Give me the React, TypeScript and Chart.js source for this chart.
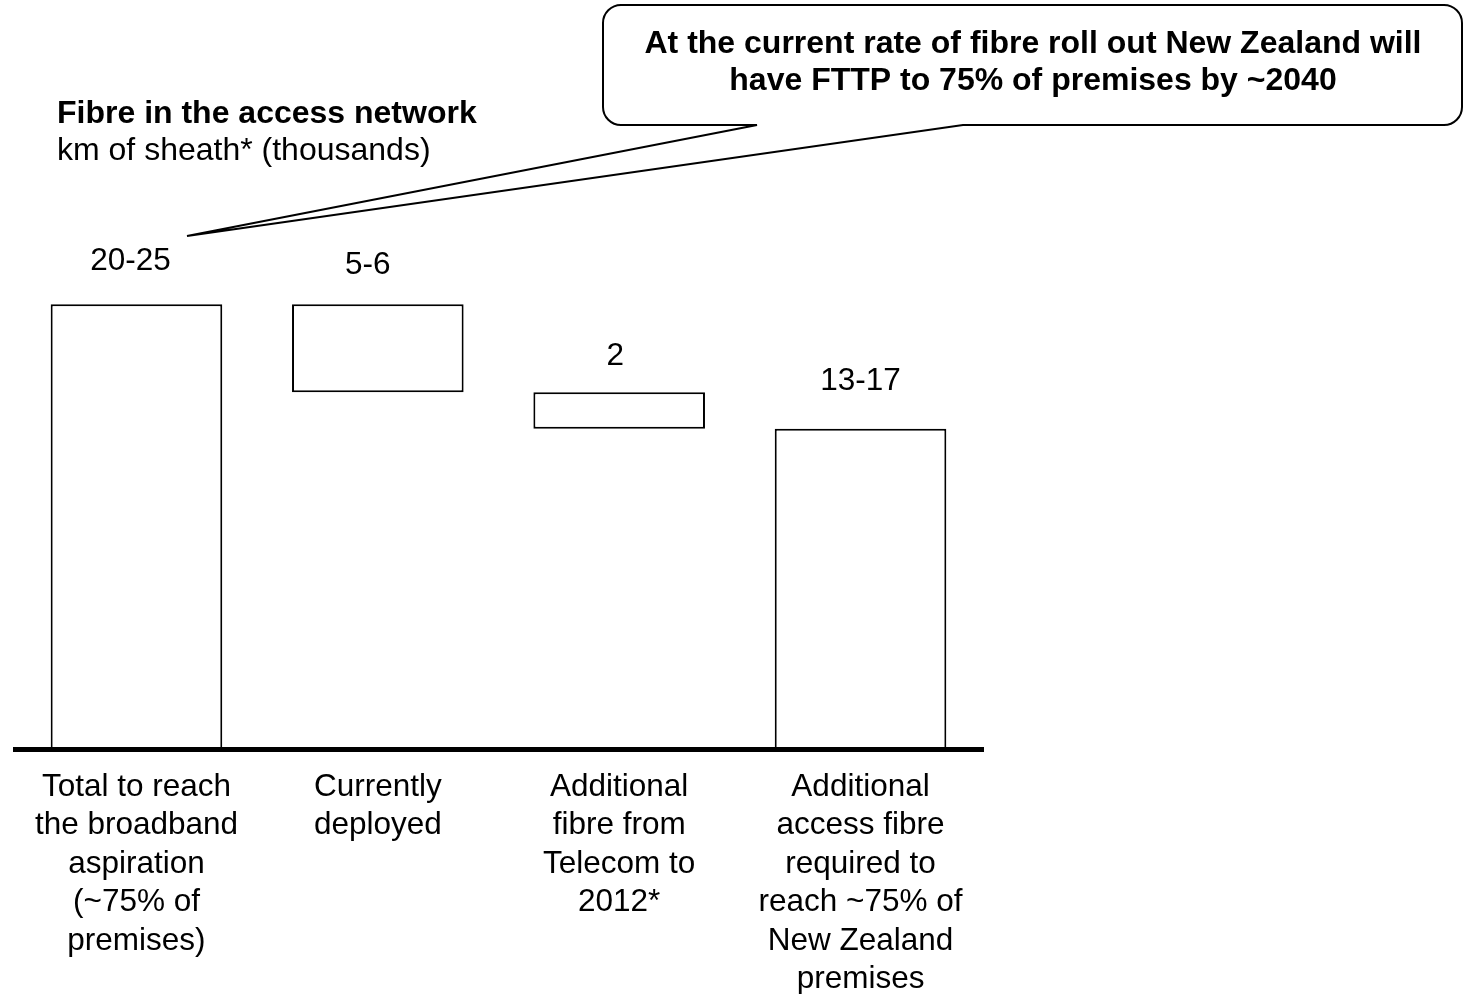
import React, { useEffect, useRef } from 'react';
import { Chart, registerables } from 'chart.js';

Chart.register(...registerables);

// ---- data ----
const categories: string[][] = [
  ['Total to reach', 'the broadband', 'aspiration', '(~75% of', 'premises)'],
  ['Currently', 'deployed'],
  ['Additional', 'fibre from', 'Telecom to', '2012*'],
  ['Additional', 'access fibre', 'required to', 'reach ~75% of', 'New Zealand', 'premises'],
];
const barStarts = [0, 18.05, 16.2, 0];
const barEnds = [22.5, 22.5, 18.05, 16.2];
const valueLabels = ['20-25', '5-6', '2', '13-17'];
const titleText = 'Fibre in the access network';
const subtitleText = 'km of sheath* (thousands)';
const calloutLines = [
  'At the current rate of fibre roll out New Zealand will',
  'have FTTP to 75% of premises by ~2040',
];

const FONT = '"Liberation Sans", Arial, Helvetica, sans-serif';

const annotationPlugin = {
  id: 'annotations',
  afterDatasetsDraw(chart: any) {
    const ctx = chart.ctx;
    const meta = chart.getDatasetMeta(0);
    const dx = [-6, -10, -4, 0];
    const dy = [43, 38.5, 36, 47];
    ctx.save();
    ctx.fillStyle = '#000';
    ctx.font = `31.5px ${FONT}`;
    ctx.textAlign = 'center';
    ctx.textBaseline = 'middle';
    meta.data.forEach((el: any, i: number) => {
      const top = Math.min(el.y, el.base);
      ctx.fillText(valueLabels[i], el.x + dx[i], top - dy[i]);
    });
    ctx.restore();
  },
  afterDraw(chart: any) {
    const ctx = chart.ctx;
    ctx.save();
    // title
    ctx.fillStyle = '#000';
    ctx.textAlign = 'left';
    ctx.textBaseline = 'alphabetic';
    ctx.font = `bold 32px ${FONT}`;
    ctx.fillText(titleText, 57, 123);
    ctx.font = `32px ${FONT}`;
    ctx.fillText(subtitleText, 57, 160);

    // callout
    const L = 603, T = 5, R = 1462, B = 125, r = 18;
    const p1 = 757, p2 = 963, tipX = 187, tipY = 236;
    ctx.beginPath();
    ctx.moveTo(L + r, T);
    ctx.lineTo(R - r, T);
    ctx.arcTo(R, T, R, T + r, r);
    ctx.lineTo(R, B - r);
    ctx.arcTo(R, B, R - r, B, r);
    ctx.lineTo(p2, B);
    ctx.lineTo(tipX, tipY);
    ctx.lineTo(p1, B);
    ctx.lineTo(L + r, B);
    ctx.arcTo(L, B, L, B - r, r);
    ctx.lineTo(L, T + r);
    ctx.arcTo(L, T, L + r, T, r);
    ctx.closePath();
    ctx.fillStyle = '#fff';
    ctx.fill();
    ctx.lineWidth = 2;
    ctx.strokeStyle = '#000';
    ctx.lineJoin = 'miter';
    ctx.miterLimit = 4;
    ctx.stroke();

    ctx.fillStyle = '#000';
    ctx.textAlign = 'center';
    ctx.font = `bold 32px ${FONT}`;
    ctx.fillText(calloutLines[0], 1033, 52.5);
    ctx.fillText(calloutLines[1], 1033, 90);
    ctx.restore();
  },
};

export default function App() {
  const canvasRef = useRef<HTMLCanvasElement | null>(null);

  useEffect(() => {
    document.body.style.margin = '0';
    document.body.style.overflow = 'hidden';
    const canvas = canvasRef.current;
    if (!canvas) return;
    const chart = new Chart(canvas, {
      type: 'bar',
      data: {
        labels: categories as any,
        datasets: [
          {
            data: barStarts.map((s, i) => [s, barEnds[i]]) as any,
            backgroundColor: '#ffffff',
            borderColor: '#000000',
            borderWidth: 2,
            borderSkipped: false,
            barPercentage: 0.711,
            categoryPercentage: 1,
          },
        ],
      },
      options: {
        animation: false,
        responsive: false,
        devicePixelRatio: 1,
        layout: { padding: { left: 15.8, right: 484.8, top: 156, bottom: -24 } },
        plugins: {
          legend: { display: false },
          tooltip: { enabled: false },
          title: { display: false },
        },
        scales: {
          x: {
            z: 1,
            grid: { display: false, drawTicks: false, lineWidth: 5 },
            border: { display: true, color: '#000', width: 5 },
            ticks: {
              color: '#000',
              font: { family: FONT, size: 31.5, lineHeight: 38.5 / 31.5 },
              padding: 19,
              maxRotation: 0,
              minRotation: 0,
              autoSkip: false,
            },
          },
          y: { display: false, min: 0, max: 30 },
        },
      },
      plugins: [annotationPlugin],
    });
    return () => chart.destroy();
  }, []);

  return (
    <div style={{ width: 1466, height: 994, position: 'relative', background: '#fff' }}>
      <canvas ref={canvasRef} width={1466} height={994} style={{ display: 'block' }} />
    </div>
  );
}
